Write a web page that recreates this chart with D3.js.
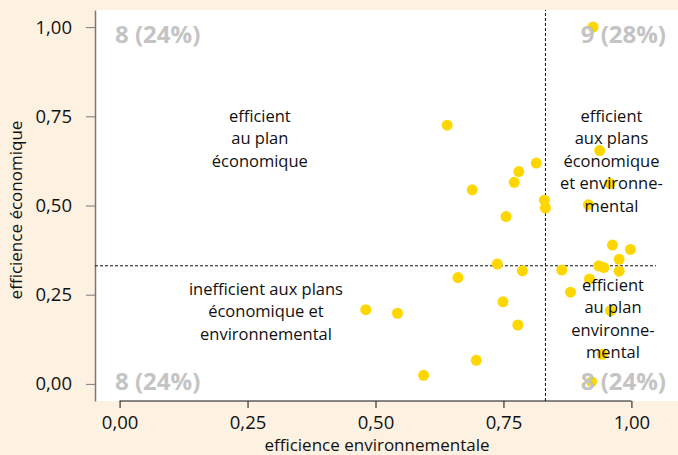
<!DOCTYPE html>
<html>
<head>
<meta charset="utf-8">
<script src="https://cdn.jsdelivr.net/npm/d3@7"></script>
<style>
  body { margin: 0; background: #fdf1e1; }
  svg { display: block; font-family: "Open Sans", sans-serif; }
</style>
</head>
<body>
<div id="chart"></div>
<script>
// efficience environnementale (x) / économique (y) of each farm
const effEnv = [0.925, 0.640, 0.814, 0.780, 0.771, 0.689, 0.830, 0.832, 0.755,
                0.938, 0.958, 0.916, 0.963, 0.998, 0.976, 0.936, 0.946,
                0.976, 0.864, 0.918, 0.881, 0.959, 0.943, 0.922,
                0.738, 0.787, 0.661, 0.749, 0.778, 0.697, 0.481, 0.543, 0.594];
const effEco = [1.000, 0.725, 0.619, 0.595, 0.565, 0.544, 0.515, 0.493, 0.469,
                0.654, 0.562, 0.502, 0.389, 0.377, 0.349, 0.331, 0.326,
                0.316, 0.319, 0.294, 0.257, 0.205, 0.083, 0.006,
                0.336, 0.317, 0.298, 0.230, 0.165, 0.066, 0.208, 0.198, 0.024];

// seuils (lignes pointillées)
const thresholdEnv = 0.832;
const thresholdEco = 0.331;

const tickValues = [0, 0.25, 0.5, 0.75, 1];
const tickLabels = ["0,00", "0,25", "0,50", "0,75", "1,00"];

// label blocks, centred on (x, y) in data units
const quadrantLabels = [
    { x: 0.274, y: 0.688, lines: ["efficient", "au plan", "économique"] },
    { x: 0.961, y: 0.625, lines: ["efficient", "aux plans", "économique", "et environne-", "mental"] },
    { x: 0.286, y: 0.203, lines: ["inefficient aux plans", "économique et", "environnemental"] },
    { x: 0.964, y: 0.183, lines: ["efficient", "au plan", "environne-", "mental"] }
];
const cornerCounts = ["8 (24%)", "9 (28%)", "8 (24%)", "8 (24%)"];

const W = 678, H = 455;
const svg = d3.select("#chart").append("svg").attr("width", W).attr("height", H);

const x = d3.scaleLinear().domain([-0.048, 1.048]).range([95, 656]);
const y = d3.scaleLinear().domain([-0.048, 1.048]).range([401, 10]);

// white panel
svg.append("rect").attr("x", 95).attr("y", 10).attr("width", W - 95).attr("height", 391).attr("fill", "#fff");

// y axis
const yAxis = d3.axisLeft(y).tickValues(tickValues).tickFormat((d, i) => tickLabels[i])
    .tickSize(9).tickPadding(14).tickSizeOuter(0);
const gy = svg.append("g").attr("transform", "translate(95,0)").call(yAxis);
gy.select(".domain").attr("stroke", "#7a7a7a").attr("stroke-width", 1.5);
gy.selectAll(".tick line").attr("stroke", "#7a7a7a");
gy.selectAll("text").attr("font-size", 18.5).attr("fill", "#111").attr("font-family", "Open Sans");

// x axis
const xAxis = d3.axisBottom(x).tickValues(tickValues).tickFormat((d, i) => tickLabels[i])
    .tickSize(7).tickPadding(8).tickSizeOuter(0);
const gx = svg.append("g").attr("transform", "translate(0,401)").call(xAxis);
gx.select(".domain").attr("d", `M${x(0)},0H${x(1)}`).attr("stroke", "#111");
gx.selectAll(".tick line").attr("stroke", "#111");
gx.selectAll("text").attr("font-size", 18.5).attr("fill", "#111").attr("font-family", "Open Sans");

// axis titles
svg.append("text").attr("x", 377).attr("y", 451).attr("text-anchor", "middle")
    .attr("font-size", 17).attr("fill", "#111").text("efficience environnementale");
svg.append("text").attr("transform", "translate(22,210) rotate(-90)").attr("text-anchor", "middle")
    .attr("font-size", 17).attr("fill", "#111").text("efficience économique");

// threshold lines
svg.append("line").attr("x1", x.range()[0]).attr("x2", x.range()[1])
    .attr("y1", y(thresholdEco)).attr("y2", y(thresholdEco))
    .attr("stroke", "#111").attr("stroke-dasharray", "3,2");
svg.append("line").attr("x1", x(thresholdEnv)).attr("x2", x(thresholdEnv))
    .attr("y1", y.range()[0]).attr("y2", y.range()[1])
    .attr("stroke", "#111").attr("stroke-dasharray", "3,2");

// points
svg.append("g").selectAll("circle")
    .data(effEnv.map((d, i) => ({ env: d, eco: effEco[i] })))
    .join("circle")
    .attr("cx", d => x(d.env))
    .attr("cy", d => y(d.eco))
    .attr("r", 5.5)
    .attr("fill", "#ffd700");

// quadrant labels
const lineH = 22.5;
quadrantLabels.forEach(q => {
    const t = svg.append("text").attr("text-anchor", "middle").attr("font-size", 16.5).attr("fill", "#111");
    const n = q.lines.length;
    q.lines.forEach((line, i) => {
        t.append("tspan").attr("x", x(q.x))
            .attr("y", y(q.y) + (i - (n - 1) / 2) * lineH)
            .attr("dy", "0.35em").text(line);
    });
});

// corner counts
const corners = [
    { px: 115, py: 43, anchor: "start" },
    { px: 666, py: 43, anchor: "end" },
    { px: 115, py: 390, anchor: "start" },
    { px: 666, py: 390, anchor: "end" }
];
svg.append("g").selectAll("text").data(corners).join("text")
    .attr("x", d => d.px).attr("y", d => d.py).attr("text-anchor", d => d.anchor)
    .attr("font-size", 24).attr("font-weight", "bold").attr("fill", "#c4c4c4")
    .text((d, i) => cornerCounts[i]);
</script>
</body>
</html>
